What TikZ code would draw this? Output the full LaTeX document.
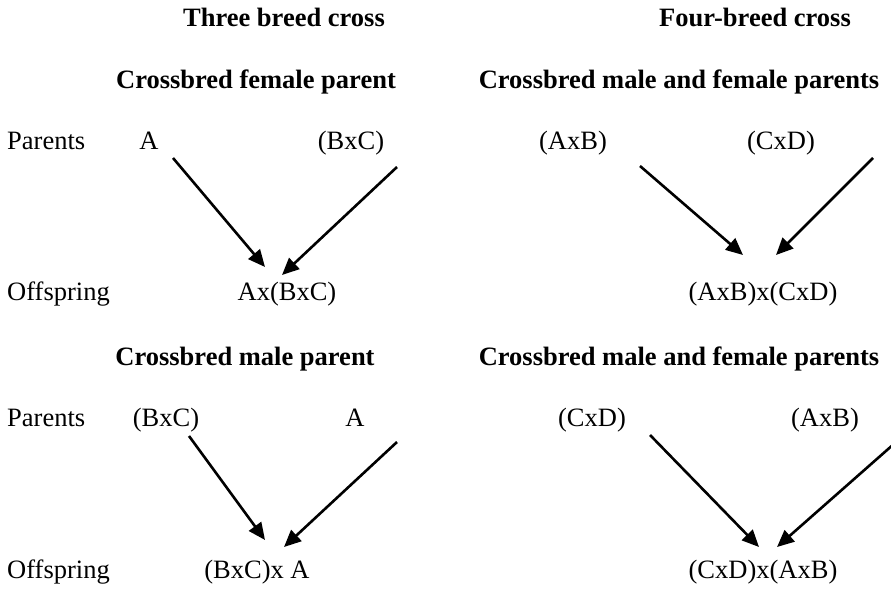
\documentclass[tikz,border=0pt]{standalone}
\usepackage{fontspec}
\setmainfont{Liberation Serif}
\usetikzlibrary{arrows.meta}
\begin{document}
\begin{tikzpicture}[x=1pt,y=-1pt,
  txt/.style={anchor=base,inner sep=0pt,font=\fontsize{26.5}{30}\selectfont},
  hdr/.style={txt,font=\fontsize{26.5}{30}\selectfont\bfseries},
  lbl/.style={txt,anchor=base west},
  arr/.style={line width=2.6pt,-{Triangle[length=17pt,width=15pt]}}]
\useasboundingbox (0,0) rectangle (891,589);

% headings
\node[hdr] (t3) at (284,27) {Three breed cross};
\node[hdr] (t4) at (755,27) {Four-breed cross};
\node[hdr] (s1) at (256,88.5) {Crossbred female parent};
\node[hdr] (s2) at (679,88.5) {Crossbred male and female parents};
\node[hdr] (s3) at (245,365) {Crossbred male parent};
\node[hdr] (s4) at (679,365) {Crossbred male and female parents};

% first row of crosses
\node[lbl] (p1) at (7,149.5) {Parents};
\node[txt] (a1) at (149,149.5) {A};
\node[txt] (bc1) at (351,149.5) {(BxC)};
\node[txt] (ab1) at (573,149.5) {(AxB)};
\node[txt] (cd1) at (781,149.5) {(CxD)};
\node[lbl] (o1) at (7,300.5) {Offspring};
\node[txt] (k1) at (287,300.5) {Ax(BxC)};
\node[txt] (k2) at (763,300.5) {(AxB)x(CxD)};

% second row of crosses
\node[lbl] (p2) at (7,426) {Parents};
\node[txt] (bc2) at (166,426) {(BxC)};
\node[txt] (a2) at (355,426) {A};
\node[txt] (cd2) at (592,426) {(CxD)};
\node[txt] (ab2) at (825,426) {(AxB)};
\node[lbl] (o2) at (7,578) {Offspring};
\node[txt] (k3) at (257,578) {(BxC)x A};
\node[txt] (k4) at (763,578) {(CxD)x(AxB)};

% arrow ends
\coordinate (a1s) at (173,158);  \coordinate (a1e) at (265,267);
\coordinate (bc1s) at (397,167); \coordinate (bc1e) at (282,275);
\coordinate (ab1s) at (640,166); \coordinate (ab1e) at (743,255);
\coordinate (cd1s) at (873,158); \coordinate (cd1e) at (776,255);
\coordinate (bc2s) at (189,436); \coordinate (bc2e) at (265,540);
\coordinate (a2s) at (397,442);  \coordinate (a2e) at (284,547);
\coordinate (cd2s) at (650,435); \coordinate (cd2e) at (759,547);
\coordinate (ab2s) at (895,443); \coordinate (ab2e) at (777,547);

\draw[arr] (a1s) -- (a1e);
\draw[arr] (bc1s) -- (bc1e);
\draw[arr] (ab1s) -- (ab1e);
\draw[arr] (cd1s) -- (cd1e);
\draw[arr] (bc2s) -- (bc2e);
\draw[arr] (a2s) -- (a2e);
\draw[arr] (cd2s) -- (cd2e);
\draw[arr] (ab2s) -- (ab2e);
\end{tikzpicture}
\end{document}
